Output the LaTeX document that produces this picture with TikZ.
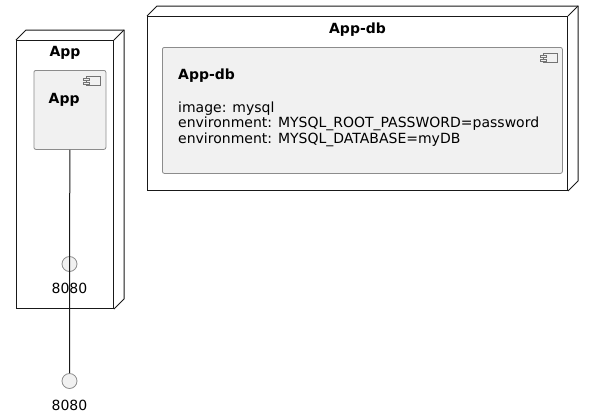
\documentclass[tikz,border=0pt]{standalone}
\usepackage{fontspec}
\setmainfont{DejaVu Sans}
\usetikzlibrary{positioning, calc}

% back edges of a 3D deployment node
\newcommand{\boxdepth}[1]{%
  \draw[link] (#1.north west) -- ++(10,-10) -- ($(#1.north east)+(10,-10)$)
    -- ($(#1.south east)+(10,-10)$) -- (#1.south east);
  \draw[link] (#1.north east) -- ++(10,-10);}

% small component icon in the top right corner
\newcommand{\compicon}[1]{%
  \draw[icon] ($(#1.north east)+(-20,6)$) rectangle ++(14,9);
  \draw[icon] ($(#1.north east)+(-23,8)$) rectangle ++(6,2);
  \draw[icon] ($(#1.north east)+(-23,12)$) rectangle ++(6,2);}

\begin{document}
\begin{tikzpicture}[x=1pt, y=-1pt,
depnode/.style={rectangle,
  draw=black!90,
  fill=white,
  line width=1pt,
  inner sep=0pt,
  anchor=north west
},
compbox/.style={rectangle,
  draw=black!45,
  fill=black!5.5,
  rounded corners=2pt,
  line width=0.8pt,
  inner sep=0pt,
  anchor=north west
},
iface/.style={circle,
  draw=black!45,
  fill=black!5.5,
  minimum size=15pt,
  inner sep=0pt,
  line width=0.8pt
},
icon/.style={draw=black!55, fill=black!5.5, line width=0.6pt},
boldtext/.style={font=\fontsize{14}{16}\selectfont\bfseries, inner sep=0pt},
plaintext/.style={font=\fontsize{14}{16}\selectfont, inner sep=0pt},
link/.style={draw=black!90, line width=1pt}
]
\useasboundingbox (0,0) rectangle (593,418);

% deployment nodes
\node[depnode, minimum width=97pt, minimum height=268pt] (appnode) at (16,40) {};
\boxdepth{appnode}
\node[depnode, minimum width=420pt, minimum height=174pt] (dbnode) at (147,16) {};
\boxdepth{dbnode}

\node[boldtext, anchor=base] (apptitle) at ($(appnode.north)+(0,16)$) {App};
\node[boldtext, anchor=base] (dbtitle) at ($(dbnode.north)+(0,17)$) {App-db};

% components
\node[compbox, minimum width=72pt, minimum height=79pt] (app) at (33.5,70) {};
\compicon{app}
\node[boldtext, anchor=base west] (applbl) at ($(app.north west)+(15,33)$) {App};

\node[compbox, minimum width=400pt, minimum height=126pt] (appdb) at (162,47) {};
\compicon{appdb}
\node[boldtext, anchor=base west] (appdblbl) at ($(appdb.north west)+(16,32)$) {App-db};
\node[plaintext, anchor=base west] (dbimage) at ($(appdb.north west)+(16,65)$) {image: mysql};
\node[plaintext, anchor=base west] (dbenvone) at ($(appdb.north west)+(16,80.5)$) {environment: MYSQL\_ROOT\_PASSWORD=password};
\node[plaintext, anchor=base west] (dbenvtwo) at ($(appdb.north west)+(16,96)$) {environment: MYSQL\_DATABASE=myDB};

% ports
\node[iface] (port1) at (69.5,264) {};
\node[plaintext, below=11pt of port1] (port1lbl) {8080};
\node[iface] (port2) at (69.5,381) {};
\node[plaintext, below=11pt of port2] (port2lbl) {8080};

\draw[link] (app.south) -- (port1.center) -- (port2.north);
\end{tikzpicture}
\end{document}
